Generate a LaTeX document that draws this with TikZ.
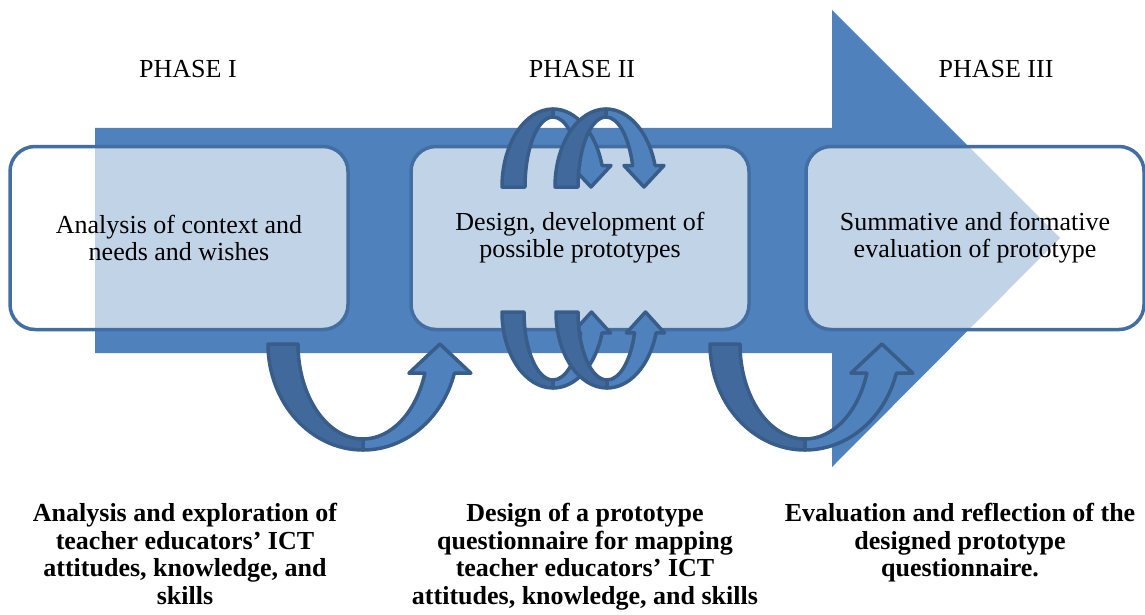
\documentclass[tikz,border=0pt]{standalone}
\usepackage{fontspec}
\setmainfont{Liberation Serif}
\usetikzlibrary{positioning}

\definecolor{arrowblue}{HTML}{4F81BD}
\definecolor{edgeblue}{HTML}{385D8A}
\definecolor{backblue}{HTML}{41699C}

\tikzset{
    stage/.style={draw=arrowblue!85!black, line width=3.5pt, rounded corners=25pt,
        fill=white, fill opacity=.65, text opacity=1, minimum width=338pt,
        minimum height=183pt, align=center, font=\fontsize{26}{27}\selectfont},
    phase/.style={anchor=base, inner sep=0pt, font=\fontsize{26}{27}\selectfont},
    aim/.style={anchor=north, inner sep=0pt, align=center,
        font=\fontsize{26}{27.5}\selectfont\bfseries},
    turnback/.style={fill=backblue, draw=edgeblue, line width=3.5pt, line join=round},
    turnfront/.style={fill=arrowblue, draw=edgeblue, line width=3.5pt, line join=round},
}

% #1 scope options, #2 outer x radius, #3 outer y radius,
% #4 inner x radius, #5 inner y radius, #6 head half width
\newcommand{\turnarrow}[6]{%
    \begin{scope}[#1]
        \filldraw[turnback] (0,0) arc[start angle=180, end angle=90, x radius=#2, y radius=#3]
            -- (#2,#5) arc[start angle=90, end angle=180, x radius=#4, y radius=#5] -- cycle;
        \filldraw[turnfront] (#2,#3) arc[start angle=90, end angle=16, x radius=#2, y radius=#3]
            -- ({#2+(#2+#4)/2*cos(16)+#6}, {#3*sin(16)})
            -- ({#2+(#2+#4)/2*cos(16)}, 0)
            -- ({#2+(#2+#4)/2*cos(16)-#6}, {#3*sin(16)})
            -- ({#2+#4*cos(asin(#3*sin(16)/#5))}, {#3*sin(16)})
            arc[start angle={asin(#3*sin(16)/#5)}, end angle=90, x radius=#4, y radius=#5]
            -- cycle;
    \end{scope}
}

\begin{document}
\begin{tikzpicture}[x=1pt, y=-1pt]

\useasboundingbox (0,0) rectangle (1145,615);

% big arrow
\fill[arrowblue] (95,128) -- (832,128) -- (832,10) -- (1060,238)
    -- (832,467) -- (832,353) -- (95,353) -- cycle;

\node[phase] (phase1) at (188,78) {PHASE I};
\node[phase] (phase2) at (582,78) {PHASE II};
\node[phase] (phase3) at (996,78) {PHASE III};

\node[stage] (analysis) at (179,238) {Analysis of context and\\needs and wishes};
\node[stage] (design) at (580,238) {Design, development of\\possible prototypes};
\node[stage] (evaluation) at (975,238) {Summative and formative\\evaluation of prototype};

% turning arrows
\turnarrow{shift={(268,344)}}{95}{106}{65}{95}{31}
\turnarrow{shift={(710,344)}}{95}{106}{65}{95}{31}
\turnarrow{shift={(502,312)}}{51}{76}{29}{68}{19}
\turnarrow{shift={(556,312)}}{51}{76}{29}{68}{19}
\turnarrow{shift={(502,187)}, yscale=-1}{51}{78}{28}{70}{20}
\turnarrow{shift={(555,187)}, yscale=-1}{51}{78}{28}{70}{20}

\node[aim] (explore) at (185,503) {Analysis and exploration of\\teacher educators’ ICT\\attitudes, knowledge, and\\skills};
\node[aim] (prototype) at (585,503) {Design of a prototype\\questionnaire for mapping\\teacher educators’ ICT\\attitudes, knowledge, and skills};
\node[aim] (reflect) at (960,503) {Evaluation and reflection of the\\designed prototype\\questionnaire.};

\end{tikzpicture}
\end{document}
